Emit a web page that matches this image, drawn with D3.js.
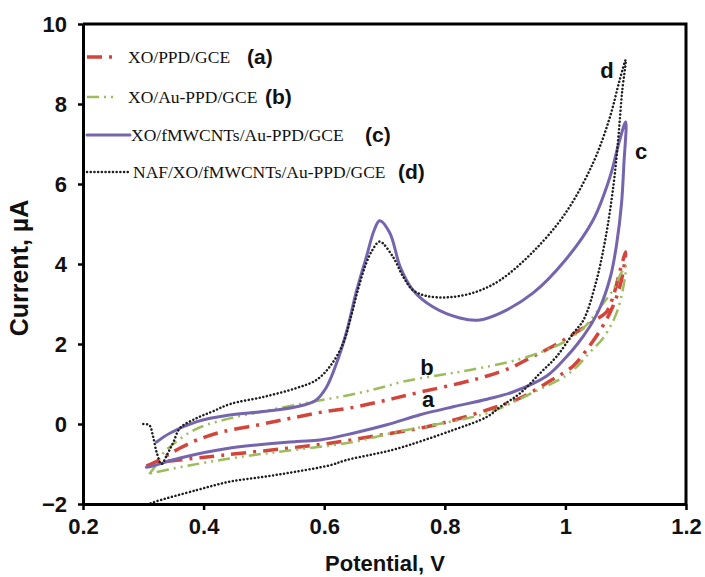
<!DOCTYPE html>
<html>
<head>
<meta charset="utf-8">
<script src="https://cdn.jsdelivr.net/npm/d3@7"></script>
<style>
  html, body { margin: 0; padding: 0; background: #fff; }
  svg { display: block; }
</style>
</head>
<body>
<svg id="chart" width="705" height="577"></svg>
<script>
// potential (V) / current (uA), each curve is one full CV loop
const aV = [0.305,0.32,0.34,0.361,0.389,0.43,0.488,0.54,0.593,0.65,0.704,0.76,0.825,0.87,0.913,0.941,0.98,1.024,1.05,1.068,1.079,1.09,1.1,
            1.093,1.079,1.06,1.035,1.013,0.977,0.925,0.88,0.82,0.77,0.676,0.6,0.543,0.432,0.36,0.328,0.305];
const aI = [-1.05,-0.95,-0.78,-0.6,-0.4,-0.2,-0.03,0.13,0.29,0.42,0.6,0.8,1.02,1.2,1.43,1.65,1.95,2.35,2.6,2.8,3.18,3.8,4.3,
            3.6,2.95,2.4,1.85,1.45,1.1,0.65,0.4,0.12,-0.07,-0.32,-0.5,-0.6,-0.78,-0.9,-0.96,-1.05];

const bV = [0.31,0.32,0.333,0.35,0.378,0.405,0.455,0.52,0.582,0.64,0.687,0.731,0.79,0.842,0.919,0.969,1.0,1.03,1.062,1.079,1.09,1.1,
            1.093,1.08,1.06,1.041,1.02,1.0,0.941,0.88,0.83,0.72,0.648,0.55,0.471,0.378,0.316,0.305];
const bI = [-1.25,-1.05,-0.73,-0.5,-0.2,-0.02,0.18,0.38,0.56,0.72,0.88,1.06,1.22,1.35,1.6,1.85,2.07,2.4,3.0,3.35,3.7,3.95,
            3.2,2.6,2.1,1.8,1.45,1.2,0.75,0.32,0.12,-0.2,-0.45,-0.65,-0.8,-1.03,-1.22,-1.25];

const cV = [0.322,0.344,0.389,0.444,0.499,0.554,0.585,0.603,0.62,0.637,0.654,0.67,0.683,0.692,0.709,0.726,0.747,0.78,0.825,0.858,0.892,0.946,1.0,1.046,1.074,1.09,1.1,
            1.097,1.093,1.085,1.075,1.057,1.041,1.02,1.0,0.969,0.913,0.87,0.814,0.759,0.704,0.648,0.593,0.554,0.444,0.361,0.311,0.305];
const cI = [-0.45,-0.23,0.06,0.225,0.31,0.43,0.58,0.9,1.5,2.3,3.35,4.18,4.85,5.08,4.77,3.93,3.35,2.93,2.65,2.6,2.77,3.27,4.1,5.1,6.18,7.1,7.55,
            6.5,5.5,4.5,3.7,2.9,2.45,2.0,1.65,1.2,0.8,0.62,0.43,0.23,-0.02,-0.23,-0.4,-0.44,-0.6,-0.85,-1.07,-1.08];

const dV = [0.3,0.31,0.316,0.322,0.33,0.34,0.35,0.361,0.389,0.416,0.444,0.5,0.554,0.587,0.61,0.631,0.643,0.655,0.668,0.68,0.692,0.714,0.731,0.747,0.77,0.809,0.853,0.892,0.946,1.0,1.046,1.074,1.09,1.1,
            1.094,1.088,1.08,1.066,1.05,1.03,1.013,0.985,0.958,0.925,0.892,0.87,0.814,0.72,0.68,0.637,0.61,0.554,0.5,0.444,0.389,0.316,0.31];
const dI = [0,-0.03,-0.3,-0.7,-1.0,-0.75,-0.45,-0.1,0.15,0.32,0.5,0.68,0.9,1.1,1.45,2.0,2.6,3.3,3.95,4.35,4.56,4.18,3.68,3.35,3.2,3.17,3.31,3.6,4.3,5.27,6.53,7.68,8.6,9.1,
            8.3,7.2,6.0,4.6,3.5,2.6,2.27,1.68,1.27,0.77,0.43,0.18,-0.15,-0.62,-0.76,-0.9,-1.03,-1.19,-1.32,-1.44,-1.65,-1.96,-2.0];

const xTicks = [0.2, 0.4, 0.6, 0.8, 1, 1.2];
const yTicks = [-2, 0, 2, 4, 6, 8, 10];

const legendNames = ['XO/PPD/GCE', 'XO/Au-PPD/GCE', 'XO/fMWCNTs/Au-PPD/GCE', 'NAF/XO/fMWCNTs/Au-PPD/GCE'];
const legendTags = ['(a)', '(b)', '(c)', '(d)'];

const series = [
  { key: 'a', v: aV, i: aI, color: '#d3453b', width: 3.5, dash: '15,7,3,7', cap: 'butt' },
  { key: 'b', v: bV, i: bI, color: '#9cbd5c', width: 2.5, dash: '12,5,2,5,2,5', cap: 'butt' },
  { key: 'c', v: cV, i: cI, color: '#7565ae', width: 3, dash: null, cap: 'round' },
  { key: 'd', v: dV, i: dI, color: '#1e1e1e', width: 2.5, dash: '0.1,3.6', cap: 'round' }
];

const W = 705, H = 577;
const m = { top: 24, right: 19, bottom: 73, left: 83 };

const svg = d3.select('#chart');
const x = d3.scaleLinear().domain([0.2, 1.2]).range([m.left, W - m.right]);
const y = d3.scaleLinear().domain([-2, 10]).range([H - m.bottom, m.top]);

// frame (top + right)
svg.append('path')
  .attr('d', `M${x(0.2)},${y(10)}H${x(1.2)}V${y(-2)}`)
  .attr('fill', 'none').attr('stroke', '#000').attr('stroke-width', 3);

const line = d3.line()
  .x(d => x(d[0])).y(d => y(d[1]))
  .curve(d3.curveCatmullRom.alpha(0.5));

series.forEach(s => {
  svg.append('path')
    .datum(d3.zip(s.v, s.i))
    .attr('d', line)
    .attr('fill', 'none')
    .attr('stroke', s.color)
    .attr('stroke-width', s.width)
    .attr('stroke-linecap', s.cap)
    .attr('stroke-linejoin', 'round')
    .attr('stroke-dasharray', s.dash);
});

// axes
const xAxis = svg.append('g')
  .attr('transform', `translate(0,${y(-2)})`)
  .call(d3.axisBottom(x).tickValues(xTicks).tickSize(6).tickSizeOuter(0).tickFormat(d3.format('')));
const yAxis = svg.append('g')
  .attr('transform', `translate(${x(0.2)},0)`)
  .call(d3.axisLeft(y).tickValues(yTicks).tickSize(5).tickSizeOuter(0));

[xAxis, yAxis].forEach(g => {
  g.select('.domain').attr('stroke', '#000').attr('stroke-width', 3);
  g.selectAll('.tick line').attr('stroke', '#000').attr('stroke-width', 2.5);
  g.selectAll('.tick text')
    .attr('fill', '#111')
    .attr('font-family', 'Liberation Sans, Arial, sans-serif')
    .attr('font-weight', 'bold')
    .attr('font-size', '22px');
});
xAxis.selectAll('.tick text').attr('dy', '0.95em');
yAxis.selectAll('.tick text').attr('x', -16);

svg.append('text')
  .attr('x', 385).attr('y', 571)
  .attr('text-anchor', 'middle')
  .attr('font-family', 'Liberation Sans, Arial, sans-serif')
  .attr('font-weight', 'bold').attr('font-size', '22px').attr('fill', '#111')
  .text('Potential, V');

svg.append('text')
  .attr('transform', 'translate(28,268) rotate(-90)')
  .attr('text-anchor', 'middle')
  .attr('font-family', 'Liberation Sans, Arial, sans-serif')
  .attr('font-weight', 'bold').attr('font-size', '25px').attr('fill', '#111')
  .text('Current, µA');

// legend
const legRows = [57, 97, 135, 172];
const legLineEnd = [116, 118, 130, 130];
const legTextX = [128, 128, 131, 133];
const legTagX = [247, 265, 365, 398];
series.forEach((s, k) => {
  const ly = legRows[k];
  svg.append('line')
    .attr('x1', 87).attr('x2', legLineEnd[k]).attr('y1', ly).attr('y2', ly)
    .attr('stroke', s.color).attr('stroke-width', s.width)
    .attr('stroke-linecap', s.cap)
    .attr('stroke-dasharray', s.dash);
  svg.append('text')
    .attr('x', legTextX[k]).attr('y', ly + 6)
    .attr('font-family', 'Liberation Serif, Times New Roman, serif')
    .attr('font-size', '17.5px').attr('fill', '#111')
    .text(legendNames[k]);
  svg.append('text')
    .attr('x', legTagX[k]).attr('y', ly + 7)
    .attr('font-family', 'Liberation Sans, Arial, sans-serif')
    .attr('font-weight', 'bold').attr('font-size', '21px').attr('fill', '#111')
    .text(legendTags[k]);
});

// curve letters
const tagPos = { a: [428, 400], b: [427, 368], c: [641, 152], d: [607, 71] };
Object.entries(tagPos).forEach(([k, p]) => {
  svg.append('text')
    .attr('x', p[0]).attr('y', p[1] + 7)
    .attr('text-anchor', 'middle')
    .attr('font-family', 'Liberation Sans, Arial, sans-serif')
    .attr('font-weight', 'bold').attr('font-size', '22px').attr('fill', '#111')
    .text(k);
});
</script>
</body>
</html>
